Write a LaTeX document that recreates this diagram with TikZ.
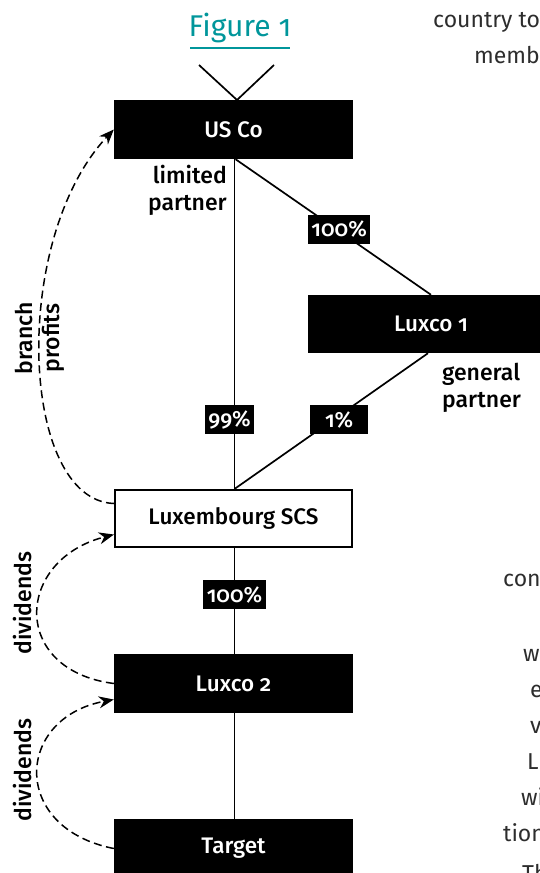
\documentclass[tikz,border=0pt]{standalone}
\usepackage{fontspec}
\setmainfont{Fira Sans}[Numbers=OldStyle, BoldFont={Fira Sans Medium}]
\usetikzlibrary{arrows.meta}
\definecolor{teal1}{RGB}{0,150,155}
\definecolor{bodygray}{RGB}{45,45,45}
\begin{document}
\begin{tikzpicture}[x=1pt,y=-1pt,
  blackbox/.style={fill=black,text=white,minimum width=239pt,minimum height=59pt,inner sep=0pt,font=\fontsize{22.5}{26}\selectfont\bfseries},
  whitebox/.style={draw=black,line width=1.6pt,fill=white,text=black,minimum width=237.5pt,minimum height=57.5pt,inner sep=0pt,font=\fontsize{22.5}{26}\selectfont\bfseries},
  pct/.style={fill=black,text=white,inner xsep=3.5pt,inner ysep=0pt,minimum height=29pt,font=\fontsize{22}{26}\selectfont\bfseries},
  conn/.style={line width=1.7pt},
  flow/.style={line width=1.5pt,dash pattern=on 8pt off 4.5pt,-{Stealth[length=15pt,width=12pt]}},
  lbl/.style={font=\fontsize{23}{27}\selectfont\bfseries,inner sep=0pt},
  body/.style={font=\fontsize{23}{28}\selectfont,text=bodygray,anchor=base west,inner sep=0pt}]
\useasboundingbox (0,0) rectangle (540,873);

% title
\node[font=\fontsize{30}{34}\selectfont,text=teal1,inner sep=0pt,anchor=base] (fig) at (240,36) {Figure 1};
\draw[teal1,line width=2.5pt] (190,48) -- (290,48);

% boxes
\node[blackbox] (usco) at (233.5,129.5) {US Co};
\node[blackbox,minimum width=246pt,minimum height=58pt] (lux1) at (431,324) {Luxco 1};
\node[whitebox] (scs) at (233.5,518.5) {Luxembourg SCS};
\node[blackbox] (lux2) at (233.5,683.5) {Luxco 2};
\node[blackbox] (target) at (233.5,848.5) {Target};

% V on top
\coordinate (vl) at (199,65);
\coordinate (vr) at (274,65);
\coordinate (vtip) at (237,100);
\draw[conn] (vl) -- (vtip) -- (vr);

% ownership lines
\draw[conn] ([xshift=1pt]usco.south) -- node[pct,pos=0.79,xshift=-5pt]{99\%} ([xshift=1pt]scs.north);
\draw[conn] ([xshift=2pt]usco.south) -- node[pct,pos=0.515,xshift=3pt]{100\%} (lux1.north);
\draw[conn] ([xshift=-3pt]lux1.south) -- node[pct,pos=0.49,xshift=6pt,minimum width=58pt]{1\%} ([xshift=1pt]scs.north);
\draw[conn] ([xshift=1pt]scs.south) -- node[pct,pos=0.44]{100\%} ([xshift=1pt]lux2.north);
\draw[conn] ([xshift=1pt]lux2.south) -- ([xshift=1pt]target.north);

% role labels
\node[lbl,align=right,anchor=north east] (lp) at (227,165) {limited\\partner};
\node[lbl,align=left,anchor=north west] (gp) at (442,363) {general\\partner};

% flows
\draw[flow] ([yshift=15pt]scs.west) .. controls (20,500) and (10,240) .. (usco.west);
\draw[flow] (lux2.west) .. controls (10,670) and (15,560) .. ([yshift=-16pt]scs.west);
\draw[flow] (target.west) .. controls (10,828) and (15,718) .. ([yshift=-16pt]lux2.west);
\node[lbl,rotate=90,align=center] (bp) at (40,338) {branch\\profits};
\node[lbl,rotate=90] (d1) at (23,603) {dividends};
\node[lbl,rotate=90] (d2) at (23,770) {dividends};

% body text fragments at the right edge
\node[body] (t1) at (433,27) {country to};
\node[body] (t2) at (474,63) {memb};
\node[body] (t3) at (503,586) {con};
\node[body] (t4) at (523,661) {w};
\node[body] (t5) at (530,697) {e};
\node[body] (t6) at (530,733) {v};
\node[body] (t7) at (527,769) {Lu};
\node[body] (t8) at (521,805) {wi};
\node[body] (t9) at (503,841) {tion};
\node[body] (t10) at (522,881) {Th};
\end{tikzpicture}
\end{document}
